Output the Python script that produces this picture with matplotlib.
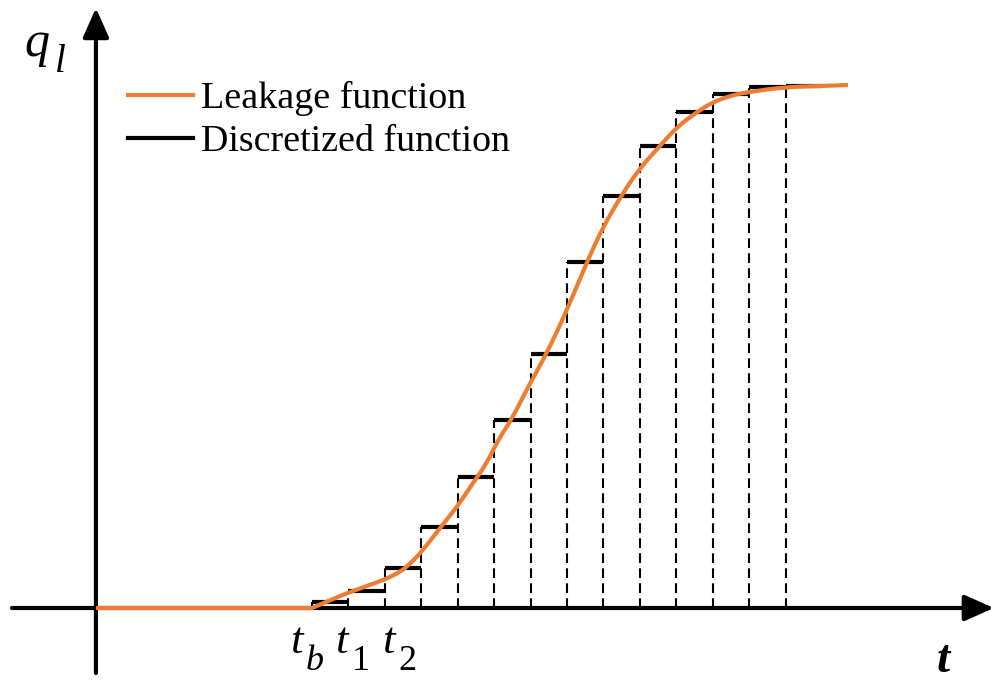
import matplotlib
matplotlib.use("Agg")
import matplotlib.pyplot as plt
from matplotlib.lines import Line2D
from matplotlib.path import Path
from matplotlib.patches import PathPatch

plt.rcParams['font.family'] = ['Liberation Serif', 'DejaVu Serif']
plt.rcParams['lines.scale_dashes'] = False

# ---- data (time in units of the discretization step, t_b = 0; q_l normalised) ----
step_edges = list(range(0, 15))  # t_b, t_1, ..., t_14
step_values = [0.011, 0.032, 0.076, 0.155, 0.250, 0.359, 0.485,
               0.660, 0.786, 0.882, 0.947, 0.981, 0.994, 0.996]

curve_t = [-5.93, 0.0, 0.576, 1.043, 1.510, 2.031, 2.416, 2.690, 3.019, 3.514,
           3.980, 4.419, 4.804, 5.106, 5.490, 5.929, 6.451, 7.000, 7.549, 7.988,
           8.537, 9.004, 9.553, 10.019, 10.568, 11.007, 11.556, 11.996, 12.984,
           13.999, 14.713]
curve_q = [0.0, 0.0, 0.0172, 0.0305, 0.0420, 0.0553, 0.0687, 0.0840, 0.1080, 0.1527,
           0.1927, 0.2385, 0.2767, 0.3206, 0.3607, 0.4218, 0.4866, 0.5687, 0.6603, 0.7271,
           0.7920, 0.8397, 0.8817, 0.9179, 0.9466, 0.9656, 0.9790, 0.9847, 0.9943,
           0.9962, 0.9981]

legend_labels = ["Leakage function", "Discretized function"]
tick_main = ["t", "t", "t"]
tick_sub = ["b", "1", "2"]

ORANGE = "#ED7D31"

fig = plt.figure(figsize=(9.95, 6.84), dpi=100)
ax = fig.add_axes([0, 0, 1, 1])
ax.set_xlim(-8.564, 18.75)
ax.set_ylim(-0.14504, 1.1603)
ax.axis('off')

# axes arrows
arrow_kw = dict(arrowstyle='-|>,head_length=0.9,head_width=0.4',
                lw=3.0, color='black', shrinkA=0, shrinkB=0, mutation_scale=20)
ax.annotate('', xy=(18.72, 0), xytext=(-8.235, 0), arrowprops=arrow_kw, zorder=3)
ax.annotate('', xy=(-5.93, 1.145), xytext=(-5.93, -0.124), arrowprops=arrow_kw, zorder=3)

# dashed verticals
for k in range(len(step_values)):
    ax.plot([step_edges[k], step_edges[k]], [0, step_values[k]],
            color='black', lw=1.5, dashes=(7, 3.8), zorder=2)

# step segments
for k in range(len(step_values)):
    ax.plot([step_edges[k], step_edges[k + 1]], [step_values[k], step_values[k]],
            color='black', lw=3.0, solid_capstyle='butt', zorder=4)

# leakage curve: smooth quadratic path using the read points as control points
pts = list(zip(curve_t, curve_q))
verts = [pts[0], pts[1]]
codes = [Path.MOVETO, Path.LINETO]
for i in range(2, len(pts) - 1):
    mid = ((pts[i][0] + pts[i + 1][0]) / 2, (pts[i][1] + pts[i + 1][1]) / 2)
    verts += [pts[i], mid]
    codes += [Path.CURVE3, Path.CURVE3]
verts.append(pts[-1])
codes.append(Path.LINETO)
ax.add_patch(PathPatch(Path(verts, codes), facecolor='none', edgecolor=ORANGE,
                       lw=3.0, zorder=5, joinstyle='round', capstyle='butt'))

# t_b, t_1, t_2 labels
main_x = [-0.604, 0.631, 1.921]
sub_x = [-0.165, 1.098, 2.361]
for mx, sx, m, s in zip(main_x, sub_x, tick_main, tick_sub):
    ax.text(mx, -0.0859, m, fontsize=32.5, fontstyle='italic', ha='left', va='baseline')
    ax.text(sx, -0.1183, s, fontsize=26, fontstyle='italic' if s.isalpha() else 'normal',
            ha='left', va='baseline')

# axis names
ax.text(17.33, -0.1221, 't', fontsize=34, fontstyle='italic', fontweight='bold',
        ha='center', va='baseline')
ax.text(-7.906, 1.0534, 'q', fontsize=36, fontstyle='italic', ha='left', va='baseline')
ax.text(-7.055, 1.0229, 'l', fontsize=28, fontstyle='italic', ha='left', va='baseline')

handles = [Line2D([], [], color=ORANGE, lw=3.0),
           Line2D([], [], color='black', lw=3.0)]
ax.legend(handles, legend_labels, loc='upper left', bbox_to_anchor=(0.129, 0.882),
          frameon=False, fontsize=27.4, handlelength=1.71, handletextpad=0.2,
          labelspacing=0.22, borderpad=0, borderaxespad=0)

fig.savefig('out.png', dpi=100)
